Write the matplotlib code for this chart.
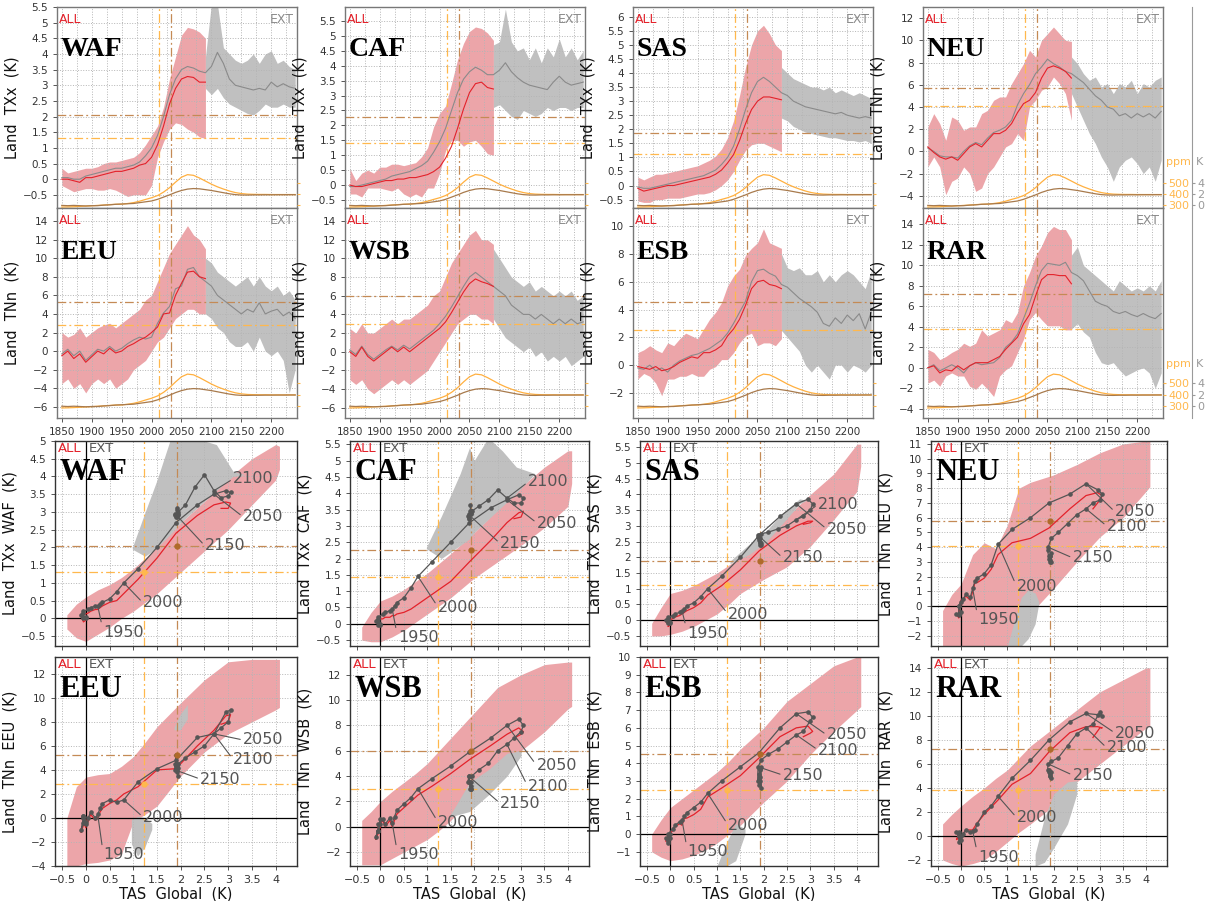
import numpy as np
import matplotlib
matplotlib.use('Agg')
import matplotlib.pyplot as plt
from matplotlib.ticker import MultipleLocator, FuncFormatter

# ---------------- data ----------------
yr = np.arange(1850, 2241, 10)          # 1850 ... 2240
yr_all = yr[:25]                         # ALL run: 1850 ... 2090
yr_ext = yr[24:]                         # EXT spread: 2090 ... 2240

tas = [0.0, -0.05, 0.0, -0.05, -0.1, -0.05, -0.05, 0.05, 0.1, 0.2,
       0.25, 0.3, 0.35, 0.5, 0.65, 0.8, 1.1, 1.5, 1.9, 2.35,
       2.7, 2.95, 3.05, 3.0, 2.85, 2.7, 2.5, 2.3, 2.1, 1.95,
       1.88, 1.87, 1.9, 1.9, 1.92, 1.92, 1.93, 1.93, 1.94, 1.94]
co2 = [285, 286, 288, 291, 294, 296, 300, 303, 307, 310,
       311, 317, 325, 338, 354, 369, 389, 420, 460, 510,
       555, 578, 572, 548, 520, 492, 468, 448, 430, 416,
       407, 402, 400, 399, 399, 398, 398, 398, 398, 398]

cross_years = [2012, 2032]
cross_tas = [1.22, 1.93]

regions = ['WAF', 'CAF', 'SAS', 'NEU', 'EEU', 'WSB', 'ESB', 'RAR']
index_name = ['TXx', 'TXx', 'TXx', 'TNn', 'TNn', 'TNn', 'TNn', 'TNn']

waf_all = [0.0, 0.0, -0.05, -0.1, 0.05, 0.05, 0.1, 0.15, 0.2, 0.25, 0.25, 0.3, 0.35, 0.45, 0.5, 0.7, 1.1, 1.7, 2.4, 2.9, 3.2, 3.28, 3.25, 3.1, 3.1]
waf_all_lo = [-0.2, -0.3, -0.4, -0.35, -0.3, -0.3, -0.35, -0.35, -0.3, -0.35, -0.45, -0.55, -0.5, -0.5, -0.5, -0.2, 0.7, 1.2, 1.6, 1.8, 1.75, 1.6, 1.5, 1.35, 1.3]
waf_all_hi = [0.35, 0.2, 0.25, 0.3, 0.35, 0.35, 0.4, 0.5, 0.55, 0.55, 0.6, 0.65, 0.7, 0.85, 1.1, 1.4, 1.7, 2.3, 3.2, 3.9, 4.6, 4.85, 4.8, 4.7, 4.5]
waf_ext = [0.05, 0.05, 0.0, 0.0, 0.1, 0.15, 0.2, 0.25, 0.3, 0.35, 0.35, 0.4, 0.45, 0.55, 0.75, 1.0, 1.4, 2.0, 2.7, 3.2,
           3.5, 3.6, 3.55, 3.45, 3.4, 3.6, 4.05, 3.7, 3.2, 3.0, 2.95, 2.9, 2.85, 2.9, 2.85, 3.1, 2.95, 3.05, 2.95, 2.9]
waf_ext_lo = [2.9, 2.7, 2.9, 2.6, 2.4, 2.3, 2.2, 2.1, 2.05, 2.2, 2.4, 2.3, 2.3, 2.4, 2.3, 2.3]
waf_ext_hi = [3.9, 5.6, 5.6, 4.2, 4.0, 3.8, 3.7, 3.8, 4.0, 3.7, 4.0, 4.1, 3.7, 3.8, 3.6, 3.5]
waf_lines = [1.32, 2.05]

caf_all = [0.0, -0.05, -0.05, 0.0, 0.05, 0.1, 0.15, 0.15, 0.2, 0.2, 0.25, 0.25, 0.3, 0.35, 0.45, 0.6, 0.9, 1.3, 1.9, 2.55, 3.1, 3.4, 3.45, 3.27, 3.22]
caf_all_lo = [-0.3, -0.3, -0.4, -0.1, -0.1, -0.1, -0.15, -0.2, -0.1, -0.3, -0.4, -0.3, -0.4, -0.1, -0.1, 0.4, 1.15, 1.5, 1.5, 1.3, 1.45, 1.5, 1.3, 1.05, 1.0]
caf_all_hi = [0.55, 0.15, 0.4, 0.5, 0.4, 0.6, 0.6, 0.7, 0.7, 0.65, 0.7, 0.75, 0.95, 1.25, 1.95, 2.4, 2.65, 3.4, 4.2, 4.75, 5.15, 5.3, 5.25, 5.1, 4.85]
caf_ext = [-0.05, -0.05, 0.0, 0.05, 0.1, 0.15, 0.2, 0.3, 0.35, 0.4, 0.45, 0.55, 0.65, 0.8, 1.1, 1.45, 1.9, 2.5, 3.1, 3.55,
           3.8, 3.95, 3.85, 3.7, 3.7, 3.85, 4.1, 3.8, 3.6, 3.45, 3.35, 3.3, 3.25, 3.2, 3.45, 3.65, 3.45, 3.35, 3.4, 3.45]
caf_ext_lo = [2.6, 2.7, 2.5, 2.3, 2.2, 2.5, 2.4, 2.3, 2.4, 2.6, 2.5, 2.6, 2.6, 2.5, 2.6, 2.6]
caf_ext_hi = [4.7, 4.8, 5.9, 4.8, 4.5, 4.6, 4.2, 4.6, 4.1, 4.6, 4.3, 4.9, 4.3, 4.6, 4.2, 4.5]
caf_lines = [1.42, 2.27]

sas_all = [-0.1, -0.2, -0.15, -0.1, -0.05, 0.0, 0.0, 0.05, 0.1, 0.15, 0.2, 0.25, 0.3, 0.4, 0.55, 0.8, 1.1, 1.6, 2.2, 2.7, 3.0, 3.15, 3.15, 3.1, 3.05]
sas_all_lo = [-0.55, -0.6, -0.6, -0.5, -0.5, -0.45, -0.45, -0.45, -0.4, -0.35, -0.3, -0.3, -0.25, -0.15, 0.0, 0.2, 0.5, 0.9, 1.25, 1.45, 1.5, 1.5, 1.4, 1.3, 1.2]
sas_all_hi = [0.3, 0.2, 0.3, 0.4, 0.4, 0.45, 0.5, 0.55, 0.6, 0.65, 0.7, 0.8, 0.9, 1.05, 1.3, 1.7, 2.3, 3.2, 4.2, 5.0, 5.5, 5.7, 5.4, 5.0, 4.8]
sas_ext = [-0.05, -0.1, -0.1, -0.05, 0.0, 0.05, 0.1, 0.15, 0.2, 0.25, 0.3, 0.35, 0.45, 0.55, 0.75, 1.0, 1.4, 2.0, 2.7, 3.3,
           3.7, 3.85, 3.7, 3.5, 3.3, 3.2, 3.0, 2.9, 2.8, 2.75, 2.7, 2.65, 2.6, 2.55, 2.6, 2.5, 2.45, 2.4, 2.45, 2.4]
sas_ext_lo = [2.4, 2.3, 2.1, 2.0, 1.9, 1.85, 1.8, 1.75, 1.7, 1.7, 1.65, 1.6, 1.6, 1.55, 1.6, 1.5]
sas_ext_hi = [4.2, 4.0, 3.8, 3.7, 3.6, 3.5, 3.5, 3.4, 3.5, 3.3, 3.4, 3.3, 3.2, 3.3, 3.2, 3.1]
sas_lines = [1.13, 1.88]

neu_all = [0.4, -0.1, -0.5, -0.7, -0.5, -0.8, -0.2, 0.4, 0.7, 0.4, 1.0, 1.6, 1.6, 1.9, 2.5, 3.5, 4.3, 4.6, 5.3, 6.6, 7.5, 7.7, 7.5, 7.2, 6.6]
neu_all_lo = [-1.4, -0.5, -1.4, -3.9, -2.7, -2.4, -1.4, -2.0, -3.6, -3.3, -2.0, -1.4, -0.5, 0.4, 0.7, 1.6, 1.0, 4.0, 4.6, 5.5, 5.8, 6.7, 6.1, 5.2, 2.8]
neu_all_hi = [2.2, 3.4, 2.5, 1.0, 3.1, 2.8, 1.9, 2.2, 2.2, 3.4, 3.7, 4.6, 4.9, 4.9, 6.1, 7.0, 7.9, 9.1, 8.5, 10.0, 10.6, 11.2, 10.6, 10.0, 9.9]
neu_ext = [0.3, 0.0, -0.4, -0.5, -0.5, -0.6, 0.0, 0.5, 0.8, 0.6, 1.2, 1.7, 1.9, 2.2, 2.8, 4.2, 5.2, 6.0, 7.0, 7.6,
           8.3, 7.9, 7.6, 7.2, 7.0, 6.6, 6.2, 5.6, 5.0, 4.6, 4.0, 3.8, 3.2, 3.4, 3.0, 3.4, 3.1, 3.4, 3.0, 3.6]
neu_ext_lo = [5.2, 4.0, 2.8, 1.6, 0.7, -0.5, -1.4, -2.7, -1.4, -0.8, -0.5, -1.1, -2.0, -1.4, -2.7, -0.8]
neu_ext_hi = [8.5, 7.9, 7.0, 6.4, 6.7, 5.8, 6.1, 5.2, 6.1, 5.8, 6.4, 5.2, 6.1, 5.8, 6.4, 6.7]
neu_lines = [4.1, 5.75]

eeu_all = [-0.5, 0.0, -0.8, -0.3, -1.2, -0.6, 0.0, -0.3, 0.3, -0.2, 0.0, 0.5, 0.8, 1.2, 1.5, 2.0, 2.6, 4.0, 4.1, 6.0, 7.3, 8.5, 8.6, 8.0, 7.8]
eeu_all_lo = [-3.5, -3.0, -4.0, -3.5, -4.5, -3.5, -3.0, -3.5, -3.0, -4.0, -3.5, -3.0, -2.0, -1.5, -1.0, 0.0, 1.0, 1.5, 2.5, 3.5, 4.0, 4.5, 4.5, 4.0, 4.0]
eeu_all_hi = [2.0, 1.5, 1.8, 2.5, 1.5, 2.0, 2.5, 2.8, 3.0, 2.5, 3.0, 3.5, 4.0, 4.5, 5.5, 6.0, 7.5, 9.0, 10.5, 11.5, 12.5, 13.5, 12.5, 12.0, 11.0]
eeu_ext = [-0.3, 0.2, -0.5, 0.0, -1.0, -0.4, 0.2, 0.0, 0.5, 0.0, 0.3, 0.8, 1.2, 1.5, 1.3, 1.5, 3.0, 4.1, 4.8, 6.7,
           7.0, 8.8, 9.0, 8.0, 7.5, 7.0, 6.0, 5.5, 5.0, 4.5, 4.0, 4.5, 4.2, 5.2, 4.0, 4.3, 4.5, 3.8, 4.2, 3.5]
eeu_ext_lo = [4.0, 3.5, 2.5, 2.0, 1.0, 0.5, 0.5, 1.0, 0.0, 1.5, 0.0, -0.5, 0.0, -1.0, -4.5, -2.0]
eeu_ext_hi = [10.0, 9.5, 8.5, 8.0, 7.5, 7.0, 7.5, 8.0, 7.0, 8.0, 7.0, 6.5, 7.0, 6.0, 6.5, 5.5]
eeu_lines = [2.8, 5.25]

wsb_all = [0.0, -0.5, 0.5, -0.5, -1.0, -0.5, 0.0, 0.5, 0.0, 0.5, 0.0, 0.5, 1.0, 1.5, 2.0, 2.5, 3.2, 4.2, 5.3, 6.4, 7.3, 7.8, 7.5, 7.3, 7.0]
wsb_all_lo = [-3.0, -3.5, -3.0, -4.0, -4.5, -4.0, -3.5, -3.0, -3.5, -3.0, -3.5, -3.0, -2.5, -2.0, -1.0, 0.0, 1.0, 2.0, 3.0, 3.5, 4.0, 4.0, 3.5, 3.5, 3.0]
wsb_all_hi = [2.5, 2.0, 3.0, 2.0, 2.0, 2.5, 3.0, 3.5, 3.0, 3.5, 3.5, 4.0, 4.5, 5.0, 6.0, 6.5, 8.0, 9.5, 10.5, 11.5, 12.5, 13.0, 12.0, 12.0, 11.5]
wsb_ext = [0.2, -0.3, 0.6, -0.3, -0.8, -0.3, 0.2, 0.6, 0.2, 0.7, 0.3, 0.8, 1.3, 1.8, 2.3, 3.0, 3.8, 4.8, 5.9, 7.0,
           8.0, 8.5, 8.0, 7.5, 7.0, 6.5, 6.0, 5.0, 4.5, 4.0, 4.0, 3.5, 4.0, 3.5, 3.0, 3.5, 3.0, 3.5, 3.0, 3.2]
wsb_ext_lo = [3.5, 2.5, 1.5, 1.0, 0.5, 0.0, 0.5, -0.5, 0.0, -1.0, -0.5, -1.0, -0.5, -1.5, -1.0, -0.5]
wsb_ext_hi = [11.0, 10.0, 9.0, 8.0, 7.5, 7.0, 7.5, 6.5, 7.0, 6.5, 6.0, 6.5, 6.0, 6.5, 5.5, 6.0]
wsb_lines = [3.0, 6.0]

esb_all = [-0.1, -0.2, -0.3, -0.1, -0.4, -0.3, -0.1, 0.2, 0.4, 0.6, 0.5, 0.9, 0.9, 1.1, 1.4, 2.1, 2.6, 3.3, 4.3, 5.5, 6.0, 6.1, 5.8, 5.7, 5.5]
esb_all_lo = [-1.0, -0.6, -0.8, -1.3, -2.2, -1.0, -1.0, -0.8, -0.8, -0.6, -0.8, -0.8, -0.3, -0.1, 0.4, 0.4, 0.9, 1.6, 2.1, 2.3, 1.4, 1.6, 1.6, 1.4, 1.9]
esb_all_hi = [0.9, 1.1, 1.4, 1.1, 0.9, 1.6, 1.4, 1.9, 2.3, 2.1, 1.9, 2.6, 3.3, 3.8, 4.5, 5.7, 6.4, 6.9, 7.9, 8.4, 8.8, 9.8, 8.8, 8.6, 8.4]
esb_ext = [-0.2, -0.3, 0.0, -0.4, -0.2, -0.5, 0.0, 0.3, 0.5, 0.7, 0.8, 1.0, 1.2, 1.5, 1.8, 2.3, 3.0, 3.8, 4.6, 6.0,
           6.8, 6.9, 6.6, 6.4, 5.8, 5.6, 5.2, 4.8, 4.5, 4.2, 3.8, 3.0, 2.8, 3.4, 3.0, 3.6, 3.2, 3.7, 2.6, 3.8]
esb_ext_lo = [2.5, 2.0, 1.5, 1.0, 0.0, -0.5, 0.0, -0.5, -1.0, 0.0, 0.0, -0.5, 0.0, -0.2, -0.5, 0.0]
esb_ext_hi = [8.0, 7.0, 6.8, 7.0, 6.5, 6.5, 6.8, 6.0, 6.5, 6.0, 6.5, 6.8, 6.5, 6.0, 5.5, 6.8]
esb_lines = [2.5, 4.55]

rar_all = [0.0, 0.2, -0.5, -0.2, -0.3, 0.2, -0.2, 0.2, 0.5, 0.5, 0.5, 0.8, 1.1, 1.8, 2.4, 3.0, 4.3, 5.2, 7.0, 8.6, 9.1, 9.1, 9.0, 9.0, 8.2]
rar_all_lo = [-1.5, -1.2, -1.8, -0.8, -0.5, -0.8, -0.8, -1.8, -2.1, -1.5, -2.1, -2.8, -0.8, -0.2, 0.2, 1.5, 2.8, 4.7, 5.4, 4.7, 4.1, 4.1, 4.1, 3.7, 3.7]
rar_all_hi = [1.8, 1.5, 0.8, 1.1, 1.5, 1.8, 2.4, 2.1, 2.4, 3.7, 3.1, 3.4, 3.7, 4.7, 4.4, 5.4, 8.0, 9.3, 10.9, 11.9, 13.2, 13.8, 13.5, 13.5, 12.5]
rar_ext = [0.0, 0.3, -0.3, 0.0, 0.3, 0.0, -0.5, 0.2, 0.5, 0.3, 0.4, 0.5, 1.0, 2.0, 2.5, 3.3, 4.8, 6.3, 8.0, 9.5,
           10.2, 10.1, 10.0, 10.3, 9.3, 9.0, 8.5, 7.5, 6.5, 6.2, 6.0, 5.5, 5.3, 5.5, 5.2, 5.0, 5.3, 5.0, 4.8, 5.3]
rar_ext_lo = [3.8, 4.3, 3.5, 3.0, 1.5, 0.5, 0.3, 0.5, -0.2, -0.8, -0.5, -0.2, 0.0, -0.5, -2.0, -0.5]
rar_ext_hi = [11.0, 11.8, 10.0, 9.5, 9.0, 8.5, 8.0, 7.5, 8.5, 8.0, 7.5, 7.8, 7.5, 8.0, 7.5, 8.5]
rar_lines = [3.8, 7.2]

# scatter spread (regional anomaly vs global TAS)
sc_grid = [-0.4, -0.2, 0.0, 0.25, 0.5, 0.75, 1.0, 1.25, 1.5, 2.0, 2.5, 3.0, 3.5, 4.0, 4.08]
waf_sc_lo = [-0.3, -0.55, -0.65, -0.45, -0.25, 0.0, 0.2, 0.45, 0.7, 1.3, 1.9, 2.5, 3.2, 3.9, 4.2]
waf_sc_hi = [0.1, 0.4, 0.6, 0.8, 0.95, 1.15, 1.4, 1.7, 2.0, 2.7, 3.3, 3.95, 4.5, 4.9, 4.85]
caf_sc_lo = [-0.5, -0.55, -0.55, -0.4, -0.2, 0.05, 0.3, 0.55, 0.8, 1.4, 1.9, 2.4, 2.95, 3.6, 4.3]
caf_sc_hi = [-0.1, 0.35, 0.7, 0.85, 1.05, 1.3, 1.55, 1.85, 2.15, 2.8, 3.5, 4.2, 4.8, 5.3, 5.3]
sas_sc_lo = [-0.5, -0.5, -0.45, -0.35, -0.2, 0.0, 0.2, 0.5, 0.85, 1.3, 1.7, 2.35, 3.2, 4.1, 4.9]
sas_sc_hi = [-0.1, 0.4, 0.85, 0.95, 1.1, 1.3, 1.5, 1.75, 2.0, 2.55, 3.3, 4.0, 4.65, 5.6, 5.6]
neu_sc_lo = [-2.7, -2.7, -2.7, -2.7, -2.7, -2.7, -2.7, -1.8, -0.5, 1.2, 3.0, 4.7, 6.0, 7.8, 8.1]
neu_sc_hi = [-0.3, 0.8, 1.5, 3.5, 4.3, 3.9, 5.5, 8.0, 8.4, 8.9, 9.6, 10.4, 11.0, 11.2, 11.2]
eeu_sc_lo = [-4.0, -4.0, -3.8, -3.7, -3.5, -3.0, -0.3, 0.3, 1.0, 3.5, 5.5, 7.0, 8.0, 9.0, 9.2]
eeu_sc_hi = [0.0, 2.6, 3.4, 3.6, 3.7, 4.3, 5.1, 6.3, 7.6, 9.6, 11.5, 13.0, 13.2, 13.2, 13.2]
wsb_sc_lo = [-3.0, -3.0, -3.0, -2.5, -2.0, -1.5, -1.0, -0.3, 0.5, 2.5, 4.5, 6.0, 7.5, 9.3, 9.5]
wsb_sc_hi = [0.5, 1.2, 2.0, 2.8, 3.5, 4.2, 5.0, 6.0, 7.0, 9.0, 11.0, 12.0, 12.8, 13.0, 13.0]
esb_sc_lo = [-1.0, -1.3, -1.5, -1.4, -1.2, -0.9, -0.5, 0.0, 0.5, 1.8, 3.0, 4.5, 5.8, 7.0, 7.2]
esb_sc_hi = [0.0, 0.8, 1.5, 2.0, 2.5, 3.0, 3.5, 4.1, 4.8, 6.0, 7.5, 8.5, 9.5, 10.0, 10.0]
rar_sc_lo = [-2.0, -2.3, -2.5, -2.3, -2.0, -1.3, -0.5, 0.3, 1.0, 2.5, 4.5, 6.0, 7.5, 9.0, 9.2]
rar_sc_hi = [1.0, 1.8, 2.5, 3.3, 4.0, 4.8, 5.5, 6.5, 7.5, 9.0, 10.5, 12.0, 13.0, 14.0, 14.0]

nan = np.nan
waf_scx_x = [0.98, 1.25, 1.5, 1.77, 2.0, 2.5, 2.75, 3.1, 3.35]
waf_scx_lo = [1.95, 1.75, 2.0, 2.35, 2.7, 3.3, 3.6, 4.0, 4.05]
waf_scx_hi = [2.0, 3.0, 3.9, 5.0, 5.0, 5.0, 4.9, 4.15, 4.05]
caf_scx_x = [0.98, 1.3, 1.7, 1.9, 2.0, 2.3, 2.6, 2.9, 3.3]
caf_scx_lo = [2.3, 2.0, 2.4, 2.6, 2.8, 3.2, 3.6, 4.0, 4.6]
caf_scx_hi = [2.35, 3.3, 4.6, 5.4, 5.0, 5.7, 5.3, 4.8, 4.6]
sas_scx_x = [1.28, 1.7, 2.06, 2.42, 2.77, 2.9]
sas_scx_lo = [1.8, 2.1, 2.5, 3.1, 3.7, 3.8]
sas_scx_hi = [1.88, 2.43, 2.85, 3.43, 3.86, 3.82]
neu_scx_x = [1.0, 1.15, 1.3, 1.45, 1.6, 1.68]
neu_scx_lo = [-2.7, -2.7, -2.7, -2.2, -1.2, 0.2]
neu_scx_hi = [-2.7, -1.0, 0.6, 1.1, 0.9, 0.3]
eeu_scx_x = [0.97, 1.1, 1.25, 1.4, nan, 1.87, 2.0, 2.15]
eeu_scx_lo = [-2.2, -3.2, -2.5, -1.0, nan, 7.3, 7.3, 8.2]
eeu_scx_hi = [-0.2, 0.1, 0.0, -0.5, nan, 7.5, 8.6, 9.4]
wsb_scx_x = [1.5, 1.9, 2.3, 2.7, 3.0]
wsb_scx_lo = [0.8, 1.2, 2.5, 4.0, 5.6]
wsb_scx_hi = [1.0, 3.5, 4.5, 5.8, 6.0]
esb_scx_x = [1.0, 1.2, 1.4, 1.6]
esb_scx_lo = [-1.8, -1.8, -1.5, 0.0]
esb_scx_hi = [-1.8, -0.5, 0.6, 0.3]
rar_scx_x = [1.6, 1.8, 2.0, 2.3, 2.5]
rar_scx_lo = [-2.5, -2.2, -1.0, 1.0, 3.5]
rar_scx_hi = [-1.5, 1.5, 3.5, 4.5, 4.6]

label_years = [1950, 2000, 2050, 2100, 2150]

# ---------------- build per-region tables ----------------
g = globals()
R = {}
for name in regions:
    k = name.lower()
    R[name] = dict(all=g[k + '_all'], lo=g[k + '_all_lo'], hi=g[k + '_all_hi'],
                   ext=g[k + '_ext'], elo=g[k + '_ext_lo'], ehi=g[k + '_ext_hi'],
                   lines=g[k + '_lines'], slo=g[k + '_sc_lo'], shi=g[k + '_sc_hi'],
                   sx=g[k + '_scx_x'], sxlo=g[k + '_scx_lo'], sxhi=g[k + '_scx_hi'])

# ---------------- style / layout ----------------
PINK = '#eca5a9'
GREY = '#c0c0c0'
RED = '#e3222b'
ORANGE = '#ffb84d'
BROWN = '#c48a55'
CO2C = '#ffb040'
TASC = '#a87a4c'
DASHDOT = (0, (7, 2.5, 1.5, 2.5))
ts_ylim = {'WAF': (-0.92, 5.5), 'CAF': (-0.77, 5.97), 'SAS': (-0.8, 6.35), 'NEU': (-5.1, 13.0),
           'EEU': (-7.2, 15.4), 'WSB': (-7.1, 15.4), 'ESB': (-3.8, 11.3), 'RAR': (-4.9, 15.6)}
ts_step = {'WAF': 0.5, 'CAF': 0.5, 'SAS': 0.5, 'NEU': 2, 'EEU': 2, 'WSB': 2, 'ESB': 2, 'RAR': 2}
sc_ylim = {'WAF': (-0.78, 5.0), 'CAF': (-0.68, 5.6), 'SAS': (-0.82, 5.7), 'NEU': (-2.7, 11.2),
           'EEU': (-4.0, 13.4), 'WSB': (-3.1, 13.4), 'ESB': (-1.8, 10.0), 'RAR': (-2.5, 14.9)}
sc_step = {'WAF': 0.5, 'CAF': 0.5, 'SAS': 0.5, 'NEU': 1, 'EEU': 2, 'WSB': 2, 'ESB': 1, 'RAR': 2}
ppm_lim = [(276.4, 2094.5), (198.0, 2016.0)]
k_lim = [(-0.47, 35.9), (-2.04, 34.3)]

# where the year labels sit (axes fraction, left-centre of the text)
lab_pos = {
    'WAF': {1950: (0.2, 0.068), 2000: (0.364, 0.21), 2050: (0.777, 0.63), 2100: (0.736, 0.815), 2150: (0.62, 0.488)},
    'CAF': {1950: (0.2, 0.04), 2000: (0.368, 0.19), 2050: (0.782, 0.6), 2100: (0.745, 0.8), 2150: (0.628, 0.5)},
    'SAS': {1950: (0.2, 0.063), 2000: (0.37, 0.156), 2050: (0.785, 0.57), 2100: (0.748, 0.69), 2150: (0.6, 0.43)},
    'NEU': {1950: (0.2, 0.127), 2000: (0.364, 0.288), 2050: (0.78, 0.654), 2100: (0.745, 0.585), 2150: (0.6, 0.43)},
    'EEU': {1950: (0.2, 0.053), 2000: (0.364, 0.234), 2050: (0.777, 0.603), 2100: (0.736, 0.51), 2150: (0.6, 0.416)},
    'WSB': {1950: (0.2, 0.053), 2000: (0.368, 0.21), 2050: (0.78, 0.483), 2100: (0.745, 0.378), 2150: (0.628, 0.3)},
    'ESB': {1950: (0.2, 0.067), 2000: (0.37, 0.196), 2050: (0.785, 0.627), 2100: (0.748, 0.555), 2150: (0.6, 0.435)},
    'RAR': {1950: (0.2, 0.043), 2000: (0.364, 0.23), 2050: (0.78, 0.636), 2100: (0.745, 0.565), 2150: (0.6, 0.435)},
}

W, H = 1208, 901
fig = plt.figure(figsize=(W / 100, H / 100), dpi=100)


def rect(l, t, w, h):
    return [l / W, 1 - (t + h) / H, w / W, h / H]


fmt = FuncFormatter(lambda v, p: ('%g' % round(v, 2)).replace('-', '\u2212'))

ts_left = [57, 345, 633, 923]
ts_rows = [(7, 201), (208, 210)]
sc_left = [55, 350, 640, 931]
sc_width = [242, 239, 238, 236]
sc_rows = [(441, 205), (657, 209)]


def base_style(ax, spine_col):
    for s in ax.spines.values():
        s.set_color(spine_col)
        s.set_linewidth(1.0)
    ax.tick_params(axis='both', which='both', direction='out', labelsize=7.5,
                   colors='#555555', labelcolor='#333333', length=3, width=0.7)
    ax.tick_params(which='minor', length=0)
    ax.yaxis.set_major_formatter(fmt)
    ax.xaxis.set_major_formatter(fmt)


for i, name in enumerate(regions):
    d = R[name]
    row, col = divmod(i, 4)

    # ---------- time series panel ----------
    t, h = ts_rows[row]
    ax = fig.add_axes(rect(ts_left[col], t, 240, h))
    ax.fill_between(yr_all, d['lo'], d['hi'], color=PINK, lw=0, zorder=1)
    ax.fill_between(yr_ext, d['elo'], d['ehi'], color=GREY, lw=0, zorder=1)
    ax.axhline(d['lines'][0], color=ORANGE, lw=0.9, ls=DASHDOT, zorder=2)
    ax.axhline(d['lines'][1], color=BROWN, lw=0.9, ls=DASHDOT, zorder=2)
    ax.axvline(cross_years[0], color=ORANGE, lw=0.9, ls=DASHDOT, zorder=2)
    ax.axvline(cross_years[1], color=BROWN, lw=0.9, ls=DASHDOT, zorder=2)
    ax.plot(yr, d['ext'], color='#8a8a8a', lw=0.8, zorder=3)
    ax.plot(yr_all, d['all'], color=RED, lw=0.8, zorder=4)
    ax.set_xlim(1842, 2243)
    ax.set_ylim(*ts_ylim[name])
    ax.xaxis.set_major_locator(MultipleLocator(50))
    ax.xaxis.set_minor_locator(MultipleLocator(25))
    ax.yaxis.set_major_locator(MultipleLocator(ts_step[name]))
    ax.grid(True, which='both', axis='x', ls=':', color='#b5b5b5', lw=0.7)
    ax.grid(True, which='major', axis='y', ls=':', color='#b5b5b5', lw=0.7)
    base_style(ax, '#777777')
    ax.xaxis.set_major_formatter(FuncFormatter(lambda v, p: '%d' % v))
    if row == 0:
        ax.tick_params(axis='x', labelbottom=False)
    ax.set_ylabel('Land  %s  (K)' % index_name[i], fontsize=10.5, color='#111111')
    ax.yaxis.set_label_coords(-0.155, 0.5)
    ax.text(0.006, 0.94, 'ALL', color=RED, fontsize=9, transform=ax.transAxes, va='center')
    ax.text(0.987, 0.94, 'EXT', color='#8a8a8a', fontsize=9, transform=ax.transAxes,
            va='center', ha='right')
    ax.text(0.015, 0.79, name, fontsize=20, fontweight='bold', family='Liberation Serif',
            transform=ax.transAxes, va='center', zorder=6)

    # CO2 (ppm) and global TAS (K) at the foot of the panel
    axp = ax.twinx()
    axp.plot(yr, co2, color=CO2C, lw=0.9)
    axp.set_ylim(*ppm_lim[row])
    axp.set_yticks([300, 400, 500])
    for s in axp.spines.values():
        s.set_visible(False)
    axp.tick_params(axis='y', colors=ORANGE, labelcolor=ORANGE, length=2.5, width=0.8,
                    labelsize=8, pad=1.5, labelright=(col == 3))
    axk = ax.twinx()
    axk.plot(yr, tas, color=TASC, lw=0.9)
    axk.set_ylim(*k_lim[row])
    if col == 3:
        for s in ['left', 'top', 'bottom']:
            axk.spines[s].set_visible(False)
        axk.spines['right'].set_position(('outward', 21))
        axk.spines['right'].set_color('#9a9a9a')
        axk.set_yticks([0, 2, 4])
        axk.tick_params(axis='y', colors='#9a9a9a', labelcolor='#9a9a9a', length=2.5,
                        labelsize=8, pad=1)
        yfrac = 0.215 if row == 0 else 0.243
        ax.text(1.012, yfrac, 'ppm', color=ORANGE, fontsize=8, transform=ax.transAxes)
        ax.text(1.135, yfrac, 'K', color='#9a9a9a', fontsize=8, transform=ax.transAxes)
    else:
        axk.set_axis_off()

    # ---------- scatter panel ----------
    t, h = sc_rows[row]
    sx = fig.add_axes(rect(sc_left[col], t, sc_width[col], h))
    sx.fill_between(sc_grid, d['slo'], d['shi'], color=PINK, lw=0, zorder=1)
    sx.fill_between(d['sx'], d['sxlo'], d['sxhi'], color=GREY, lw=0, zorder=1.5)
    sx.axhline(0, color='black', lw=0.9, zorder=2)
    sx.axvline(0, color='black', lw=0.9, zorder=2)
    sx.axvline(cross_tas[0], color=ORANGE, lw=0.9, ls=DASHDOT, zorder=2)
    sx.axvline(cross_tas[1], color=BROWN, lw=0.9, ls=DASHDOT, zorder=2)
    sx.axhline(d['lines'][0], color=ORANGE, lw=0.9, ls=DASHDOT, zorder=2)
    sx.axhline(d['lines'][1], color=BROWN, lw=0.9, ls=DASHDOT, zorder=2)
    sx.plot(tas[:25], d['all'], color=RED, lw=0.9, zorder=3)
    sx.plot(tas, d['ext'], color='#555555', lw=0.9, marker='o', ms=2.3, zorder=4)
    sx.plot([cross_tas[0]], [d['lines'][0]], 'o', color=ORANGE, ms=3.5, zorder=5)
    sx.plot([cross_tas[1]], [d['lines'][1]], 'o', color='#b06a2a', ms=3.5, zorder=5)
    for y in label_years:
        j = list(yr).index(y)
        sx.annotate(str(y), (tas[j], d['ext'][j]), xytext=lab_pos[name][y],
                    textcoords='axes fraction', fontsize=11.5, color='#555555',
                    ha='left', va='center', zorder=6,
                    arrowprops=dict(arrowstyle='-', color='#555555', lw=0.8,
                                    shrinkA=0, shrinkB=0, relpos=(0, 0.5)))
    sx.set_xlim(-0.65, 4.45)
    sx.set_ylim(*sc_ylim[name])
    sx.xaxis.set_major_locator(MultipleLocator(0.5))
    sx.yaxis.set_major_locator(MultipleLocator(sc_step[name]))
    sx.grid(True, ls=':', color='#b5b5b5', lw=0.7)
    base_style(sx, '#333333')
    if row == 0:
        sx.tick_params(axis='x', labelbottom=False)
    else:
        sx.tick_params(axis='x', labelsize=8)
        sx.set_xlabel('TAS  Global  (K)', fontsize=10.5, color='#111111', labelpad=1)
    sx.set_ylabel('Land  %s  %s  (K)' % (index_name[i], name), fontsize=10.5, color='#111111')
    sx.yaxis.set_label_coords(-0.157, 0.5)
    sx.text(0.012, 0.965, 'ALL', color=RED, fontsize=9.5, transform=sx.transAxes, va='center')
    sx.text(0.138, 0.965, 'EXT', color='#555555', fontsize=9.5, transform=sx.transAxes, va='center')
    sx.text(0.02, 0.845, name, fontsize=22, fontweight='bold', family='Liberation Serif',
            transform=sx.transAxes, va='center', zorder=7)

fig.savefig('out.png', dpi=100)
